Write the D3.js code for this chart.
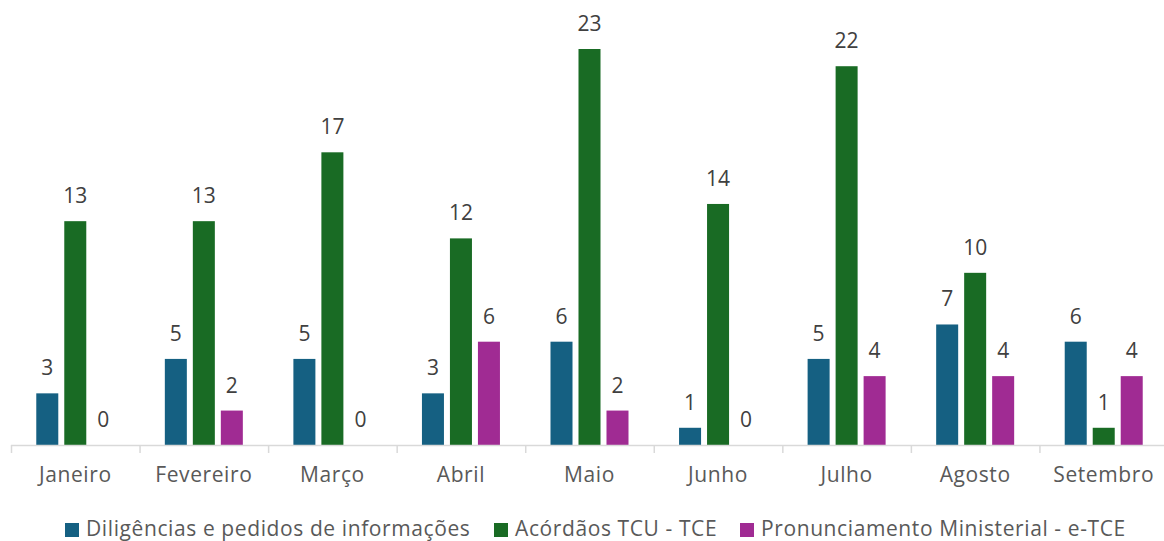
<!DOCTYPE html>
<html>
<head>
<meta charset="utf-8">
<script src="https://cdn.jsdelivr.net/npm/d3@7"></script>
<style>
	body { margin: 0; background: #fff; }
	text { font-family: "Open Sans", sans-serif; }
</style>
</head>
<body>
<div class="chart"></div>
<script>
const months = ['Janeiro', 'Fevereiro', 'Março', 'Abril', 'Maio', 'Junho', 'Julho', 'Agosto', 'Setembro'];
const series = ['Diligências e pedidos de informações', 'Acórdãos TCU - TCE', 'Pronunciamento Ministerial - e-TCE'];
const diligencias = [3, 5, 5, 3, 6, 1, 5, 7, 6];
const acordaos = [13, 13, 17, 12, 23, 14, 22, 10, 1];
const pronunciamento = [0, 2, 0, 6, 2, 0, 4, 4, 4];
const colors = ['#156082', '#196B24', '#A02B93'];

const values = [diligencias, acordaos, pronunciamento];

const width = 1164;
const height = 541;
const baseY = 445;

const svg = d3.select('.chart')
	.append('svg')
	.attr('width', width)
	.attr('height', height);

const x = d3.scaleBand()
	.domain(months)
	.range([11, 1168]);

const inner = d3.scaleBand()
	.domain(series)
	.range([-39, 39])
	.paddingInner(0.214);

const y = d3.scaleLinear()
	.domain([0, 23])
	.range([baseY, 49]);

// bars and labels
series.forEach((s, si) => {
	const g = svg.append('g');
	g.selectAll('rect')
		.data(months)
		.enter()
		.append('rect')
		.attr('x', m => x(m) + x.bandwidth() / 2 + inner(s))
		.attr('width', inner.bandwidth())
		.attr('y', (m, i) => y(values[si][i]))
		.attr('height', (m, i) => baseY - y(values[si][i]))
		.style('fill', colors[si]);
	g.selectAll('text')
		.data(months)
		.enter()
		.append('text')
		.attr('x', m => x(m) + x.bandwidth() / 2 + inner(s) + inner.bandwidth() / 2)
		.attr('y', (m, i) => y(values[si][i]) - 18)
		.attr('text-anchor', 'middle')
		.style('font-size', '21px')
		.style('fill', '#404040')
		.text((m, i) => values[si][i]);
});

// x axis
const axis = svg.append('g');
axis.append('line')
	.attr('x1', 11).attr('x2', width)
	.attr('y1', baseY + 0.5).attr('y2', baseY + 0.5)
	.style('stroke', '#d9d9d9')
	.style('stroke-width', 1.5);
axis.selectAll('.tick')
	.data(months)
	.enter()
	.append('line')
	.attr('x1', m => x(m) + 0.5)
	.attr('x2', m => x(m) + 0.5)
	.attr('y1', baseY)
	.attr('y2', baseY + 8)
	.style('stroke', '#d9d9d9')
	.style('stroke-width', 1.5);
axis.selectAll('text')
	.data(months)
	.enter()
	.append('text')
	.attr('x', m => x(m) + x.bandwidth() / 2)
	.attr('y', 482)
	.attr('text-anchor', 'middle')
	.style('font-size', '21px')
	.style('letter-spacing', '0.6px')
	.style('fill', '#595959')
	.text(m => m);

// legend
const legendX = [65, 494, 740];
const legend = svg.append('g');
series.forEach((s, si) => {
	legend.append('rect')
		.attr('x', legendX[si])
		.attr('y', 523)
		.attr('width', 14)
		.attr('height', 14)
		.style('fill', colors[si]);
	legend.append('text')
		.attr('x', legendX[si] + 21)
		.attr('y', 536)
		.style('font-size', '21px')
		.style('letter-spacing', '0.6px')
		.style('fill', '#595959')
		.text(s);
});
</script>
</body>
</html>
